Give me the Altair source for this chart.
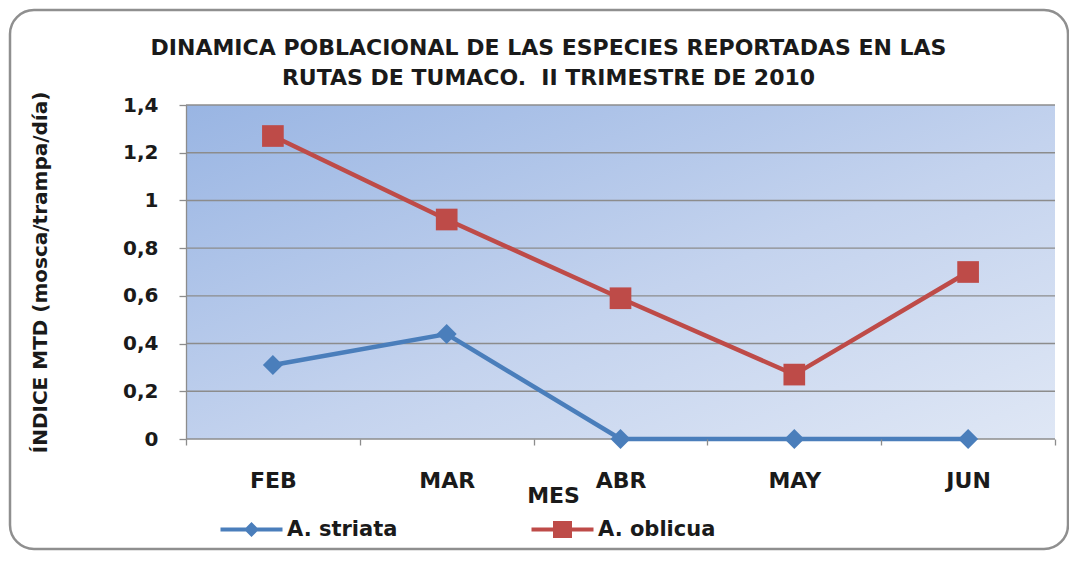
import altair as alt
import pandas as pd

months = ["FEB", "MAR", "ABR", "MAY", "JUN"]
series_names = ["A. striata", "A. oblicua"]
striata = [0.31, 0.44, 0.0, 0.0, 0.0]
oblicua = [1.27, 0.92, 0.59, 0.27, 0.70]
y_ticks = [0, 0.2, 0.4, 0.6, 0.8, 1.0, 1.2, 1.4]
colors = ["#4a7ebb", "#be4b48"]

title_lines = ["DINAMICA POBLACIONAL DE LAS ESPECIES REPORTADAS EN LAS",
               "RUTAS DE TUMACO.\u00a0 II TRIMESTRE DE 2010"]
y_title = "ÍNDICE MTD (mosca/trampa/día)"
x_title = "MES"

rows = []
for name, vals in zip(series_names, [striata, oblicua]):
    for m, v in zip(months, vals):
        rows.append({"mes": m, "serie": name, "valor": v})
df = pd.DataFrame(rows)

W, H = 869, 334
FONT = "DejaVu Sans"
TXT = "#1a1a1a"
GRID = "#8c8c8c"

yscale = alt.Scale(domain=[0, 1.4], nice=False, zero=True)
xscale = alt.Scale(type="band", paddingInner=0, paddingOuter=0)
cscale = alt.Scale(domain=series_names, range=colors)

line_path_a = "M-3.1,-0.2H3.1V0.2H-3.1Z M0,-0.75L0.75,0L0,0.75L-0.75,0Z"
line_path_b = "M-3.1,-0.2H3.1V0.2H-3.1Z M-0.95,-0.85H0.95V0.85H-0.95Z"


def make_legend(x, fill):
    return alt.Legend(
        orient="none", legendX=x, legendY=414, direction="horizontal",
        title=None, symbolSize=400, padding=0, symbolOffset=0,
        symbolStrokeWidth=0, symbolOpacity=1, symbolFillColor=fill,
        labelOffset=25,
        labelFont=FONT, labelFontSize=21, labelFontWeight="bold", labelColor=TXT,
    )


x_axis = alt.Axis(
    title=x_title, labelAngle=0, tickBand="extent", domain=False, ticks=True,
    tickSize=6, tickColor=GRID, tickWidth=1.3, labelPadding=25,
    labelFont=FONT, labelFontSize=22, labelFontWeight="bold", labelColor=TXT,
    titleFont=FONT, titleFontSize=22, titleFontWeight="bold", titleColor=TXT,
    titleX=367, titleY=56, titleBaseline="middle", zindex=1)

y_axis = alt.Axis(
    values=y_ticks, labelExpr="replace(format(datum.value, '.1~f'), '.', ',')",
    grid=False, domain=True, domainColor=GRID, domainWidth=1.3,
    tickColor=GRID, tickSize=7, tickWidth=1.3, labelPadding=21,
    labelFont=FONT, labelFontSize=20, labelFontWeight="bold", labelColor=TXT,
    title=y_title, titleFont=FONT, titleFontSize=20, titleFontWeight="bold",
    titleColor=TXT, titleX=-146, titleY=H / 2, titleAngle=270,
    titleBaseline="middle", zindex=1)

x_enc = alt.X("mes:N", sort=months, scale=xscale, axis=x_axis)
y_enc = alt.Y("valor:Q", scale=yscale, axis=y_axis)

one = pd.DataFrame({"a": [0]})

frame = alt.Chart(one).mark_rect(
    fill="white", stroke="#8f8f8f", strokeWidth=2.5, cornerRadius=24, clip=False
).encode(x=alt.value(-176), x2=alt.value(W + 13), y=alt.value(-95), y2=alt.value(H + 110))

bg = alt.Chart(one).mark_rect(
    color=alt.Gradient(gradient="linear",
                       stops=[alt.GradientStop(color="#99b5e3", offset=0),
                              alt.GradientStop(color="#c4d3ee", offset=0.55),
                              alt.GradientStop(color="#dfe7f5", offset=1)],
                       x1=0, y1=0, x2=1, y2=1)
).encode(x=alt.value(0), x2=alt.value(W), y=alt.value(0), y2=alt.value(H))

grid = alt.Chart(pd.DataFrame({"valor": y_ticks})).mark_rule(
    color=GRID, strokeWidth=1.4
).encode(y=y_enc, x=alt.value(0), x2=alt.value(W))

lines = alt.Chart(df).mark_line(strokeWidth=4.5).encode(
    x=x_enc, y=y_enc, color=alt.Color("serie:N", scale=cscale, legend=None), detail="serie:N")

points = alt.Chart(df).mark_point(filled=True, opacity=1).encode(
    x=x_enc, y=y_enc, color=alt.Color("serie:N", scale=cscale, legend=None),
    shape=alt.Shape("serie:N", scale=alt.Scale(domain=series_names, range=["diamond", "square"]), legend=None),
    size=alt.Size("serie:N", scale=alt.Scale(domain=series_names, range=[400, 470]), legend=None))

leg_a = alt.Chart(pd.DataFrame({"serie": [series_names[0]]})).mark_point(
    filled=True, opacity=0, color=colors[0]
).encode(shape=alt.Shape("serie:N", scale=alt.Scale(domain=[series_names[0]], range=[line_path_a]),
                         legend=make_legend(55, colors[0])))

leg_b = alt.Chart(pd.DataFrame({"serie": [series_names[1]]})).mark_point(
    filled=True, opacity=0, color=colors[1]
).encode(shape=alt.Shape("serie:N", scale=alt.Scale(domain=[series_names[1]], range=[line_path_b]),
                         legend=make_legend(366, colors[1])))

chart = alt.layer(frame, bg, grid, lines, points, leg_a, leg_b).resolve_scale(
    shape="independent"
).resolve_legend(shape="independent").properties(
    width=W, height=H,
    title=alt.TitleParams(text=title_lines, font=FONT, fontSize=22, fontWeight="bold",
                          color=TXT, anchor="middle", frame="group", dx=-72, dy=95,
                          offset=14, lineHeight=30),
    autosize=alt.AutoSizeParams(type="none"),
    padding={"left": 178, "top": 97, "right": 14, "bottom": 112},
).configure_view(stroke=None).configure(background="white")

chart.save("out.html", embed_options={"renderer": "svg", "actions": False})
